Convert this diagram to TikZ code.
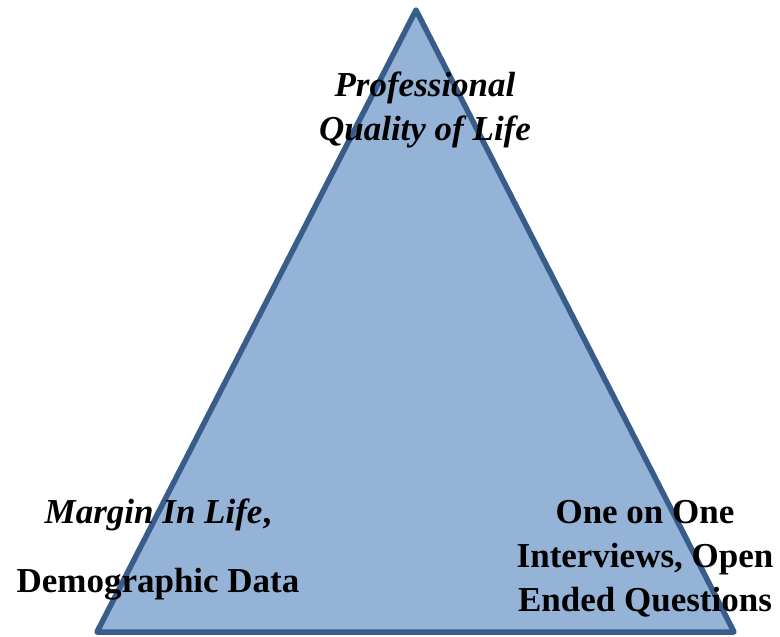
\documentclass[tikz,border=0pt]{standalone}
\usepackage{fontspec}
\setmainfont{Liberation Serif}
\usetikzlibrary{positioning}
\definecolor{trifill}{HTML}{95B3D7}
\definecolor{tridraw}{HTML}{385D8A}

\begin{document}
\begin{tikzpicture}[x=1pt, y=-1pt,
    lbl/.style={align=center, inner sep=0pt,
      font=\fontsize{35}{44}\selectfont\bfseries}]

    \useasboundingbox (0,0) rectangle (780,637);

    % the triangle
    \coordinate (top) at (416,10);
    \coordinate (left) at (97,632);
    \coordinate (right) at (734,632);
    \draw[tridraw, fill=trifill, line width=5.5pt, line join=round]
      (top)--(left)--(right)--cycle;

    \node[lbl] (pqol) at (425,110)
      {\itshape Professional\\\itshape Quality of Life};

      \node[lbl] (mil) at (158,550)
      {\textit{Margin In Life},\\[25pt]Demographic Data};

      \node[lbl] (oneone) at (645,559)
      {One on One\\Interviews, Open\\Ended Questions};
    \end{tikzpicture}
\end{document}
